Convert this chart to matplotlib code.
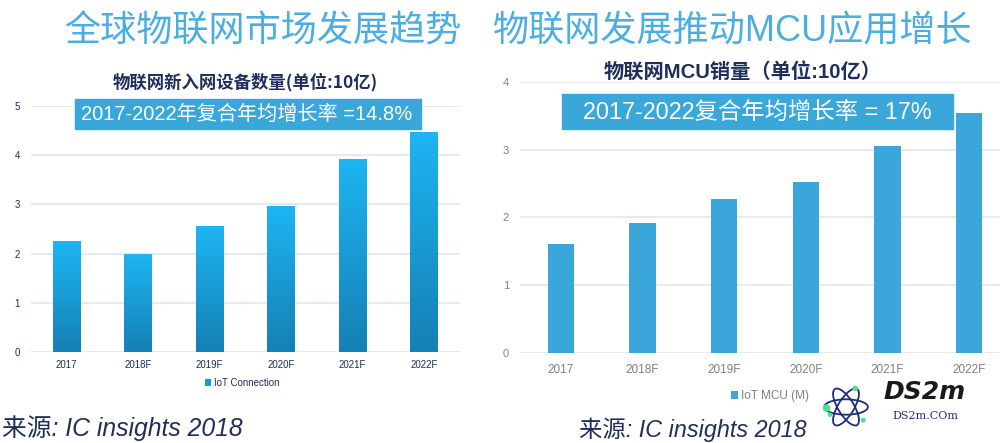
import numpy as np
import matplotlib
matplotlib.use("Agg")
from matplotlib import pyplot as plt
from matplotlib.colors import LinearSegmentedColormap
from matplotlib.patches import Ellipse, Circle

plt.rcParams['font.family'] = ['Liberation Sans', 'Noto Sans CJK SC', 'DejaVu Sans']

# data
years = ['2017', '2018F', '2019F', '2020F', '2021F', '2022F']
iot_connection = [2.25, 1.99, 2.56, 2.96, 3.92, 4.48]
iot_mcu = [1.61, 1.92, 2.28, 2.53, 3.06, 3.54]

title_left = '全球物联网市场发展趋势'
title_right = '物联网发展推动MCU应用增长'
sub_left = '物联网新入网设备数量(单位:10亿)'
sub_right = '物联网MCU销量（单位:10亿）'
cagr_left = '2017-2022年复合年均增长率 =14.8%'
cagr_right = '2017-2022复合年均增长率 = 17%'
source = '来源: IC insights 2018'

navy = '#1f2e5c'
box_blue = '#3aa7da'
title_blue = '#4aafe0'
cjk = ['Noto Sans CJK SC', 'DejaVu Sans']

fig = plt.figure(figsize=(10, 4.43), dpi=100)

# ---- left chart: gradient bars ----
ax1 = fig.add_axes([0.031, 0.2054, 0.429, 0.5553])
x = np.arange(len(years))
bars = ax1.bar(x, iot_connection, width=0.39, color='#1a9ad6', label='IoT Connection', zorder=2)
grad_cmap = LinearSegmentedColormap.from_list('g', ['#1580b3', '#1db5f3'])
grad = np.linspace(0, 1, 256).reshape(-1, 1)
for b in bars:
    x0, w, h = b.get_x(), b.get_width(), b.get_height()
    im = ax1.imshow(grad, extent=[x0, x0 + w, 0, h], origin='lower', aspect='auto',
                    cmap=grad_cmap, zorder=3)
    im.set_clip_path(b)
ax1.set_aspect('auto')
ax1.set_xlim(-0.5, len(years) - 0.5)
ax1.set_ylim(0, 5)
ax1.set_yticks(range(6))
ax1.set_xticks(x)
ax1.set_xticklabels(years)
ax1.tick_params(length=0, labelsize=7, colors=navy, pad=6)
ax1.tick_params(axis='y', pad=8)
ax1.grid(axis='y', color='#dce7f6', lw=1.2, zorder=0)
for s in ax1.spines.values():
    s.set_visible(False)
ax1.legend(loc='center', bbox_to_anchor=(0.242, 1 - 383 / 443), bbox_transform=fig.transFigure,
           frameon=False, fontsize=7, handlelength=0.6, handleheight=0.6, handletextpad=0.3,
           labelcolor=navy)

# ---- right chart ----
ax2 = fig.add_axes([0.520, 0.2032, 0.490, 0.6117])
ax2.bar(x, iot_mcu, width=0.32, color='#3aa6d9', label='IoT MCU (M)', zorder=2)
ax2.set_xlim(-0.5, len(years) - 0.5)
ax2.set_ylim(0, 4)
ax2.set_yticks(range(5))
ax2.set_xticks(x)
ax2.set_xticklabels(years)
ax2.tick_params(length=0, labelsize=8.5, colors='#808080', pad=8)
ax2.tick_params(axis='y', labelsize=8, pad=8)
ax2.grid(axis='y', color='#e6e6e6', lw=1.2, zorder=0)
for s in ax2.spines.values():
    s.set_visible(False)
ax2.legend(loc='center', bbox_to_anchor=(0.770, 1 - 396 / 443), bbox_transform=fig.transFigure,
           frameon=False, fontsize=8.5, handlelength=0.6, handleheight=0.6, handletextpad=0.3,
           labelcolor='#808080')

# ---- titles ----
fig.text(0.263, 1 - 32 / 443, title_left, fontsize=26, color=title_blue, weight='light',
         ha='center', va='center')
fig.text(0.733, 1 - 32 / 443, title_right, fontsize=26, color=title_blue, weight='light',
         ha='center', va='center')
fig.text(0.245, 1 - 82 / 443, sub_left, fontsize=12.5, color=navy, weight='bold',
         family=cjk, ha='center', va='center')
fig.text(0.743, 1 - 72 / 443, sub_right, fontsize=14.6, color=navy, weight='bold',
         ha='center', va='center')

# CAGR boxes
fig.patches.append(plt.Rectangle((0.075, 1 - 129 / 443), 0.346, 30 / 443,
                                 transform=fig.transFigure, color=box_blue, zorder=5))
fig.text(0.247, 1 - 114 / 443, cagr_left, fontsize=14.5, color='white', ha='center',
         va='center', zorder=6)
fig.patches.append(plt.Rectangle((0.562, 1 - 129 / 443), 0.391, 35 / 443,
                                 transform=fig.transFigure, color=box_blue, zorder=5))
fig.text(0.757, 1 - 112 / 443, cagr_right, fontsize=16.8, color='white', ha='center',
         va='center', zorder=6)

# source notes
fig.text(0.002, 1 - 428 / 443, source, fontsize=17.8, color=navy, style='italic', va='center')
fig.text(0.579, 1 - 430 / 443, source, fontsize=16.8, color=navy, style='italic', va='center')

# watermark logo
fig.text(0.925, 1 - 392 / 443, 'DS2m', fontsize=18, color='#1a1a1a', weight='heavy',
         style='italic', family='DejaVu Sans', ha='center', va='center')
fig.text(0.925, 1 - 416 / 443, 'DS2m.COm', fontsize=8, color='#1f2e7a',
         family='DejaVu Serif', ha='center', va='center')
lax = fig.add_axes([0.823, 1 - 429 / 443, 0.046, 44 / 443])
lax.set_xlim(-1, 1)
lax.set_ylim(-1, 1)
lax.axis('off')
for ang in (0, 60, 120):
    lax.add_patch(Ellipse((0, 0), 1.9, 0.7, angle=ang, fill=False, ec='#1c2d7a', lw=1.3))
for cx, cy, r in [(-0.85, -0.05, 0.14), (0.4, 0.85, 0.09), (0.75, -0.6, 0.08), (-0.7, -0.35, 0.07)]:
    lax.add_patch(Circle((cx, cy), r, color='#4be08a'))

fig.savefig('out.png', dpi=100)
